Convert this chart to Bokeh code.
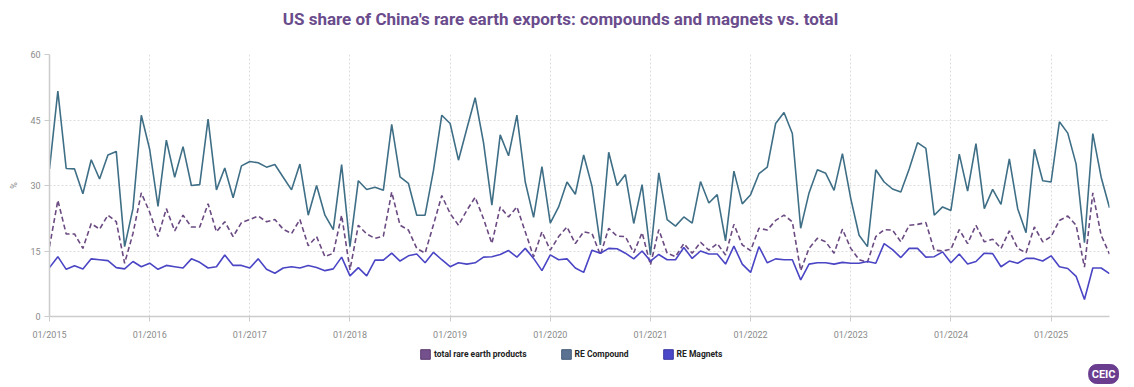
from bokeh.plotting import figure
from bokeh.layouts import column
from bokeh.models import Legend, LegendItem, FixedTicker, Title, Label, ColumnDataSource, Range1d
from bokeh.embed import file_html
from bokeh.resources import INLINE

# Monthly observations, 01/2015 .. 08/2025 (index = months since 01/2015)
month_index = list(range(128))

re_compound = [
    33.8, 51.6, 33.9, 33.8, 28.1, 35.9, 31.5, 37.0, 37.8, 16.0, 24.7, 46.1,
    38.3, 25.2, 40.4, 31.9, 38.9, 30.0, 30.2, 45.2, 29.0, 34.0, 27.2, 34.5,
    35.5, 35.2, 34.2, 34.8, 31.9, 29.0, 34.9, 23.2, 30.0, 23.2, 19.9, 34.8,
    16.0, 31.1, 29.1, 29.6, 28.9, 44.0, 32.0, 30.5, 23.2, 23.2, 33.4, 46.1,
    44.2, 35.8, 43.0, 50.1, 39.8, 25.5, 41.6, 36.8, 46.1, 30.8, 22.7, 34.3,
    21.4, 25.1, 30.8, 28.0, 37.0, 29.8, 16.4, 37.6, 30.0, 32.5, 21.3, 30.2,
    14.1, 32.9, 22.2, 20.7, 22.8, 21.4, 30.9, 26.0, 27.9, 17.3, 33.3, 25.8,
    27.9, 32.7, 34.2, 44.2, 46.7, 41.9, 20.2, 28.3, 33.6, 32.8, 28.9, 37.3,
    27.0, 18.6, 16.0, 33.6, 30.8, 29.2, 28.5, 33.8, 39.8, 38.5, 23.2, 25.1,
    24.3, 37.2, 28.7, 39.6, 24.7, 29.1, 25.7, 36.1, 24.7, 19.2, 38.3, 31.1,
    30.8, 44.6, 42.0, 34.9, 16.9, 41.9, 31.9, 24.9,
]

total_re = [
    16.0, 26.6, 18.9, 18.9, 15.6, 21.3, 20.0, 23.2, 21.7, 12.2, 19.0, 28.3,
    23.9, 18.3, 24.7, 19.6, 23.2, 20.5, 20.5, 25.8, 19.4, 21.7, 18.3, 21.5,
    22.2, 23.0, 21.7, 22.2, 20.0, 19.0, 22.2, 16.2, 18.3, 13.7, 14.5, 23.2,
    10.7, 20.9, 18.9, 17.9, 18.4, 28.5, 20.9, 19.8, 15.6, 14.5, 21.0, 27.7,
    23.6, 20.9, 24.3, 27.3, 22.4, 16.7, 25.1, 22.8, 25.1, 19.4, 13.7, 19.4,
    15.2, 18.3, 20.5, 16.7, 19.4, 19.0, 14.1, 20.2, 18.4, 18.3, 14.6, 19.2,
    11.8, 19.9, 14.5, 13.7, 16.7, 14.5, 17.0, 15.2, 16.7, 14.1, 21.1, 16.4,
    15.1, 20.2, 19.8, 22.0, 23.2, 21.7, 10.5, 15.6, 17.9, 17.1, 14.5, 20.0,
    15.6, 13.0, 12.4, 18.3, 19.9, 19.8, 17.1, 20.9, 21.1, 21.5, 15.2, 15.0,
    15.4, 19.9, 16.7, 20.9, 17.1, 17.7, 15.6, 19.6, 15.6, 14.6, 20.5, 17.1,
    18.3, 22.0, 23.0, 20.9, 11.3, 28.3, 18.6, 14.3,
]

re_magnets = [
    11.2, 13.7, 10.8, 11.6, 10.9, 13.2, 13.0, 12.8, 11.2, 10.9, 12.6, 11.4,
    12.2, 10.8, 11.7, 11.4, 11.1, 13.2, 12.4, 11.1, 11.4, 14.1, 11.7, 11.7,
    11.1, 13.2, 10.8, 9.9, 11.1, 11.4, 11.1, 11.7, 11.2, 10.5, 10.9, 13.6,
    9.3, 11.2, 9.3, 12.9, 12.9, 14.5, 12.7, 13.9, 14.3, 12.3, 14.7, 13.0,
    11.4, 12.3, 12.0, 12.3, 13.6, 13.7, 14.2, 15.1, 13.6, 15.6, 13.3, 10.5,
    14.1, 13.0, 13.2, 11.1, 10.1, 15.2, 14.5, 15.6, 15.5, 14.5, 13.2, 15.0,
    12.7, 14.2, 13.0, 13.0, 15.8, 13.3, 15.0, 14.3, 14.3, 12.0, 16.1, 12.0,
    10.1, 16.0, 12.3, 13.2, 13.0, 13.0, 8.4, 12.0, 12.3, 12.3, 12.0, 12.4,
    12.2, 12.2, 12.6, 12.2, 16.7, 15.3, 13.5, 15.6, 15.6, 13.6, 13.7, 14.8,
    12.3, 14.3, 12.0, 12.6, 14.5, 14.4, 11.4, 12.7, 12.2, 13.3, 13.3, 12.7,
    13.9, 11.4, 11.0, 9.2, 3.9, 11.1, 11.1, 9.8,
]

tick_positions = [0, 12, 24, 36, 48, 60, 72, 84, 96, 108, 120]
tick_labels = ["01/2015", "01/2016", "01/2017", "01/2018", "01/2019", "01/2020",
               "01/2021", "01/2022", "01/2023", "01/2024", "01/2025"]
y_ticks = [0, 15, 30, 45, 60]

series_names = ["total rare earth products", "RE Compound", "RE Magnets"]
chart_title = "US share of China's rare earth exports: compounds and magnets vs. total"

FONT = "Roboto"
C_TOTAL = "#6b4a82"
C_COMP = "#3f6f86"
C_MAG = "#4a45c4"
W = 1134


def blank_strip(**kw):
    f = figure(width=W, output_backend="svg", toolbar_location=None,
               x_range=Range1d(0, 1), y_range=Range1d(0, 1),
               x_axis_type=None, y_axis_type=None, min_border=0, title_location=None, **kw)
    f.outline_line_color = None
    f.grid.visible = False
    f.background_fill_color = "white"
    f.border_fill_color = "white"
    return f


# title strip (its frame is aligned with the main frame: left edge at x=49)
t = blank_strip(height=40)
t.add_layout(Label(x=511, y=22, x_units="screen", y_units="screen", text=chart_title,
                   text_font=FONT, text_font_size="17px", text_font_style="bold",
                   text_color="#6a4c8c", text_align="center", text_baseline="middle"))

src = ColumnDataSource(dict(x=month_index, comp=re_compound, total=total_re, mag=re_magnets))

p = figure(width=W, height=305, output_backend="svg", toolbar_location=None,
           x_range=Range1d(0, 127), y_range=Range1d(0, 60), title_location=None,
           min_border_left=49, min_border_right=25, min_border_top=14, min_border_bottom=29)
p.background_fill_color = "white"
p.border_fill_color = "white"
p.outline_line_color = None

p.line("x", "comp", source=src, line_color=C_COMP, line_width=1.6)
p.line("x", "total", source=src, line_color=C_TOTAL, line_width=1.6, line_dash="5 3")
p.line("x", "mag", source=src, line_color=C_MAG, line_width=1.6)

p.xaxis.ticker = FixedTicker(ticks=tick_positions)
p.xaxis.major_label_overrides = {tk: lb for tk, lb in zip(tick_positions, tick_labels)}
p.yaxis.ticker = FixedTicker(ticks=y_ticks)
for ax in (p.xaxis, p.yaxis):
    ax.axis_line_color = "#cccccc"
    ax.axis_line_width = 1.5
    ax.major_tick_line_color = "#cccccc"
    ax.major_tick_out = 5
    ax.major_tick_in = 0
    ax.minor_tick_line_color = None
    ax.major_label_text_font = FONT
    ax.major_label_text_font_size = "9px"
    ax.major_label_text_color = "#8a8a8a"
p.xaxis.major_label_standoff = 8
p.yaxis.major_label_standoff = 4
p.yaxis.axis_label = "%"
p.yaxis.axis_label_text_font = FONT
p.yaxis.axis_label_text_font_size = "9px"
p.yaxis.axis_label_text_font_style = "normal"
p.yaxis.axis_label_text_color = "#8a8a8a"
p.yaxis.axis_label_standoff = 8

p.xgrid.ticker = FixedTicker(ticks=tick_positions)
p.xgrid.grid_line_color = "#dcdcdc"
p.xgrid.grid_line_dash = "2 2"
p.ygrid.grid_line_color = "#dcdcdc"
p.ygrid.grid_line_dash = "2 2"

# legend strip with logo
q = blank_strip(frame_height=16)

# swatch renderers kept outside the visible range; only their legend boxes show
swatch = dict(left=[-3], right=[-2], top=[-2], bottom=[-3])
sw_total = q.quad(**swatch, fill_color="#74508c", line_color="#5a3b6e")
sw_comp = q.quad(**swatch, fill_color="#5b7292", line_color="#465b78")
sw_mag = q.quad(**swatch, fill_color="#4a48c8", line_color="#3a38a0")

legend = Legend(items=[LegendItem(label=series_names[0], renderers=[sw_total]),
                       LegendItem(label=series_names[1], renderers=[sw_comp]),
                       LegendItem(label=series_names[2], renderers=[sw_mag])],
                orientation="horizontal", location=(370, 1),
                glyph_width=12, glyph_height=12, label_standoff=3, spacing=33,
                label_text_font=FONT, label_text_font_size="8.5px", label_text_font_style="bold",
                label_text_color="#222222", border_line_color=None, background_fill_alpha=0,
                padding=1, margin=0)
q.add_layout(legend)

logo = Title(text="CEIC", align="right", offset=-9, standoff=2,
             text_font=FONT, text_font_size="11px", text_font_style="bold", text_color="white",
             background_fill_color="#6a3d8f", border_line_color="#6a3d8f",
             padding=3, border_radius=8)
q.add_layout(logo, "below")

layout = column(t, p, q, spacing=0)
open("out.html", "w").write(file_html(layout, INLINE))
